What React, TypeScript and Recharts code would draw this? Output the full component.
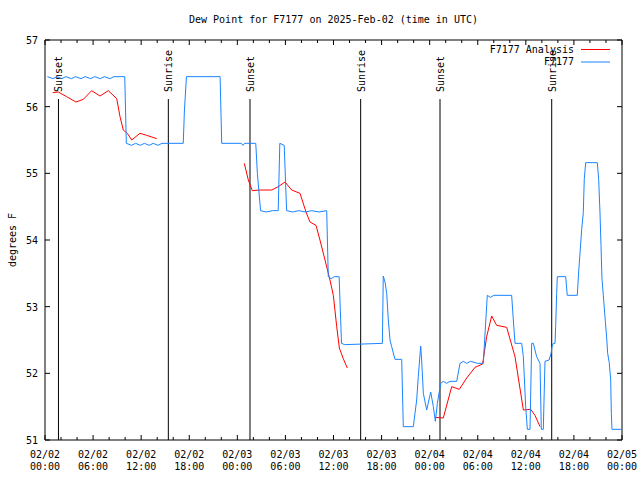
import { Legend, Line, LineChart, ReferenceLine, XAxis, YAxis } from "recharts";

const FONT = "'DejaVu Sans Mono', monospace";

// F7177 observations (hours after 2025-02-02 00:00 UTC, °F)
const obsHours = [
  0.3, 1.0, 1.5, 2.1, 2.6, 3.3, 3.8, 4.5, 5.0, 5.7, 6.2, 6.9, 7.4, 8.1, 8.6, 9.95, 10.15,
  10.8, 11.3, 11.9, 12.4, 13.0, 13.5, 14.1, 14.6, 17.25, 17.4, 17.65, 21.85, 22.05,
  24.5, 24.7, 24.9, 26.3, 26.5, 26.9, 27.6, 28.4, 29.1, 29.3, 29.85, 30.15, 30.9, 31.7,
  32.5, 33.3, 34.2, 35.15, 35.35, 35.7, 36.1, 36.7, 37.0, 37.4, 42.1, 42.21, 42.43,
  42.64, 42.84, 43.05, 43.26, 43.67, 44.51, 44.71, 45.96, 46.17, 46.38, 46.58, 46.88,
  47.0, 47.21, 47.63, 48.13, 48.46, 48.71, 48.96, 49.37, 49.7, 50.1, 50.54, 51.37,
  51.79, 52.2, 52.6, 53.1, 54.0, 54.69, 55.19, 55.6, 56.0, 58.23, 58.44, 58.65, 59.48,
  59.69, 59.98, 60.19, 60.52, 60.73, 60.94, 61.35, 61.77, 61.93, 62.18, 62.39, 62.9,
  63.15, 63.27, 63.43, 63.64, 63.72, 63.85, 63.93, 64.97, 65.17, 66.42, 66.59, 66.76,
  66.97, 67.17, 67.29, 67.47, 68.92, 69.09, 69.25, 69.38, 69.5, 69.67, 69.92, 70.09,
  70.21, 70.41, 70.59, 70.67, 70.75, 71.96,
];
const obsValues = [
  56.45, 56.42, 56.45, 56.42, 56.45, 56.42, 56.45, 56.42, 56.45, 56.42, 56.45, 56.42, 56.45, 56.42, 56.45, 56.45, 55.45,
  55.42, 55.45, 55.42, 55.45, 55.42, 55.45, 55.42, 55.45, 55.45, 55.95, 56.45, 56.45, 55.45,
  55.45, 55.42, 55.45, 55.45, 55.0, 54.44, 54.42, 54.44, 54.44, 55.45, 55.42, 54.44, 54.42, 54.44,
  54.42, 54.44, 54.42, 54.44, 53.45, 53.42, 53.45, 53.45, 52.45, 52.43, 52.45, 53.46, 53.37,
  53.2, 52.8, 52.5, 52.4, 52.21, 52.21, 51.2, 51.2, 51.4, 51.6, 51.95, 52.41,
  52.2, 51.7, 51.45, 51.72, 51.5, 51.28, 51.55, 51.85, 51.88, 51.85, 51.88, 51.88,
  52.15, 52.18, 52.15, 52.18, 52.15, 52.15, 53.17, 53.14, 53.17, 53.17, 52.8, 52.45, 52.45,
  52.25, 51.5, 51.16, 51.16, 52.45, 52.45, 52.25, 52.15, 51.16, 51.16, 52.18, 52.2,
  52.3, 52.4, 52.45, 52.45, 52.7, 53.2, 53.45, 53.45, 53.17, 53.17, 53.52, 53.8,
  54.16, 54.41, 54.91, 55.16, 55.16, 54.91, 54.42, 53.92, 53.42, 53.17, 52.78, 52.53,
  52.3, 52.16, 51.9, 51.4, 51.16, 51.16,
];

// F7177 Analysis (null = gap between runs)
const anaHours = [
  0.96, 1.66, 2.7, 3.87, 4.78, 5.82, 6.86, 7.9, 8.95, 9.36, 9.77, 10.27, 10.82, 11.85, 12.69, 13.94,
  19,
  24.87, 25.37, 25.87, 26.83, 28.29, 29.11, 29.95, 30.78, 31.82, 32.57, 33.07, 33.82, 34.31, 34.94,
  35.56, 35.98, 36.4, 36.73, 37.22, 37.72,
  43,
  48.66, 49.7, 50.75, 51.7, 52.62, 53.66, 54.61, 55.11, 55.74, 56.36, 57.61, 58.65, 59.69, 60.61,
  61.14, 61.77,
];
const anaValues = [
  56.21, 56.22, 56.15, 56.07, 56.11, 56.24, 56.16, 56.24, 56.12, 55.85, 55.65, 55.6, 55.5, 55.6, 55.57, 55.52,
  null,
  55.15, 54.9, 54.74, 54.75, 54.75, 54.8, 54.87, 54.75, 54.7, 54.42, 54.27, 54.22, 54.0, 53.7,
  53.4, 53.17, 52.7, 52.38, 52.22, 52.08,
  null,
  51.34, 51.33, 51.8, 51.76, 51.93, 52.09, 52.14, 52.55, 52.86, 52.72, 52.69, 52.25, 51.45, 51.46,
  51.37, 51.2,
];

const sunHours = [1.68, 15.39, 25.58, 39.39, 49.29, 63.23];
const sunLabels = ["Sunset", "Sunrise", "Sunset", "Sunrise", "Sunset", "Sunrise"];
const sunLineTop = 56.115;

const tickDates = ["02/02", "02/02", "02/02", "02/02", "02/03", "02/03", "02/03", "02/03", "02/04", "02/04", "02/04", "02/04", "02/05"];
const tickTimes = ["00:00", "06:00", "12:00", "18:00", "00:00", "06:00", "12:00", "18:00", "00:00", "06:00", "12:00", "18:00", "00:00"];
const yTicks = [51, 52, 53, 54, 55, 56, 57];
const keyOrder = ["F7177 Analysis", "F7177"];
const title = "Dew Point for F7177 on 2025-Feb-02 (time in UTC)";

const X_MIN = 0;
const X_MAX = 72;
const Y_MIN = 51;
const Y_MAX = 57;
const PLOT_W = 577;
const PLOT_H = 400;

const xTicks = Array.from({ length: 37 }, (_, i) => i * 2);
const majorTick = 5;
const minorTick = 3;
const pxToY = (px: number) => (px * (Y_MAX - Y_MIN)) / PLOT_H;
const pxToX = (px: number) => (px * (X_MAX - X_MIN)) / PLOT_W;

// inward tics on all four sides (gnuplot mirror style), one flat list
type Seg = { key: string; a: { x: number; y: number }; b: { x: number; y: number } };
const ticSegments: Seg[] = [];
xTicks.forEach((h) => {
  const len = pxToY(h % 6 === 0 ? majorTick : minorTick);
  ticSegments.push({ key: `b${h}`, a: { x: h, y: Y_MIN }, b: { x: h, y: Y_MIN + len } });
  ticSegments.push({ key: `t${h}`, a: { x: h, y: Y_MAX }, b: { x: h, y: Y_MAX - len } });
});
yTicks.forEach((v) => {
  ticSegments.push({ key: `l${v}`, a: { x: X_MIN, y: v }, b: { x: X_MIN + pxToX(majorTick), y: v } });
  ticSegments.push({ key: `r${v}`, a: { x: X_MAX, y: v }, b: { x: X_MAX - pxToX(majorTick), y: v } });
});

const obsData = obsHours.map((h, i) => ({ h, v: obsValues[i] }));
const anaData = anaHours.map((h, i) => ({ h, v: anaValues[i] }));

const txt = { fontFamily: FONT, fontSize: 10, fill: "#000" };

function BottomTick({ x, y, payload }: any) {
  const i = payload.value / 6;
  return (
    <text x={x} y={y + 18} textAnchor="middle" {...txt}>
      <tspan x={x}>{tickDates[i]}</tspan>
      <tspan x={x} dy={12}>{tickTimes[i]}</tspan>
    </text>
  );
}

function LeftTick({ x, y, payload }: any) {
  return (
    <text x={x - 7} y={y + 4} textAnchor="end" {...txt}>
      {payload.value}
    </text>
  );
}

function SunLabel({ viewBox, value }: any) {
  if (!viewBox) return null;
  const cx = viewBox.x + (viewBox.width || 0) / 2;
  const cy = viewBox.y - 7;
  return (
    <text x={cx} y={cy} transform={`rotate(-90 ${cx} ${cy})`} textAnchor="start" dy={4} {...txt}>
      {value}
    </text>
  );
}

function YTitle({ viewBox }: any) {
  if (!viewBox) return null;
  const x = viewBox.x + 11.5;
  const y = viewBox.y + viewBox.height / 2;
  return (
    <text x={x} y={y} transform={`rotate(-90 ${x} ${y})`} textAnchor="middle" dy={4} {...txt}>
      degrees F
    </text>
  );
}

function KeyBox({ payload }: any) {
  const items = keyOrder
    .map((name) => (payload || []).find((p: any) => p.value === name))
    .filter(Boolean);
  return (
    <svg width={640} height={80} style={{ display: "block" }}>
      <text x={333.5} y={23} textAnchor="middle" {...txt}>
        {title}
      </text>
      {items.map((p: any, i: number) => (
        <g key={p.value}>
          <text x={574} y={52.5 + i * 12.5} textAnchor="end" {...txt}>
            {p.value}
          </text>
          <line x1={581} x2={610} y1={49.5 + i * 12.5} y2={49.5 + i * 12.5} stroke={p.color} />
        </g>
      ))}
    </svg>
  );
}

export default function App() {
  const ax = { xAxisId: "x", yAxisId: "y" };
  return (
    <div style={{ position: "absolute", left: 0, top: 0, width: 640, height: 480, background: "#fff" }}>
      <LineChart width={640} height={480} margin={{ top: 40, right: 18, bottom: 0, left: 0 }}>
        <XAxis
          xAxisId="x"
          type="number"
          dataKey="h"
          domain={[X_MIN, X_MAX]}
          ticks={xTicks.filter((h) => h % 6 === 0)}
          interval={0}
          allowDataOverflow
          height={40}
          tickSize={0}
          tickMargin={0}
          tickLine={false}
          axisLine={false}
          tick={<BottomTick />}
        />
        <YAxis
          yAxisId="y"
          type="number"
          domain={[Y_MIN, Y_MAX]}
          ticks={yTicks}
          interval={0}
          allowDataOverflow
          width={45}
          tickSize={0}
          tickMargin={0}
          tickLine={false}
          axisLine={false}
          tick={<LeftTick />}
          label={{ content: YTitle }}
        />

        {/* frame */}
        <ReferenceLine {...ax} x={X_MIN} stroke="#000" />
        <ReferenceLine {...ax} x={X_MAX} stroke="#000" />
        <ReferenceLine {...ax} y={Y_MIN} stroke="#000" />
        <ReferenceLine {...ax} y={Y_MAX} stroke="#000" />

        {ticSegments.map((s) => (
          <ReferenceLine key={s.key} {...ax} segment={[s.a, s.b]} stroke="#000" ifOverflow="visible" />
        ))}

        {sunHours.map((h, i) => (
          <ReferenceLine
            key={`s${h}`}
            {...ax}
            segment={[
              { x: h, y: sunLineTop },
              { x: h, y: Y_MIN },
            ]}
            stroke="#000"
            label={{ value: sunLabels[i], content: SunLabel }}
          />
        ))}
        <Line
          {...ax}
          data={anaData}
          dataKey="v"
          name="F7177 Analysis"
          type="linear"
          stroke="#ff0000"
          strokeWidth={1}
          dot={false}
          activeDot={false}
          isAnimationActive={false}
        />
        <Line
          {...ax}
          data={obsData}
          dataKey="v"
          name="F7177"
          type="linear"
          stroke="#1a84ff"
          strokeWidth={1}
          dot={false}
          activeDot={false}
          isAnimationActive={false}
        />
        <Legend
          layout="vertical"
          align="center"
          verticalAlign="middle"
          wrapperStyle={{ left: 0, top: 0, width: 640, height: 80 }}
          content={<KeyBox />}
        />
      </LineChart>
    </div>
  );
}
